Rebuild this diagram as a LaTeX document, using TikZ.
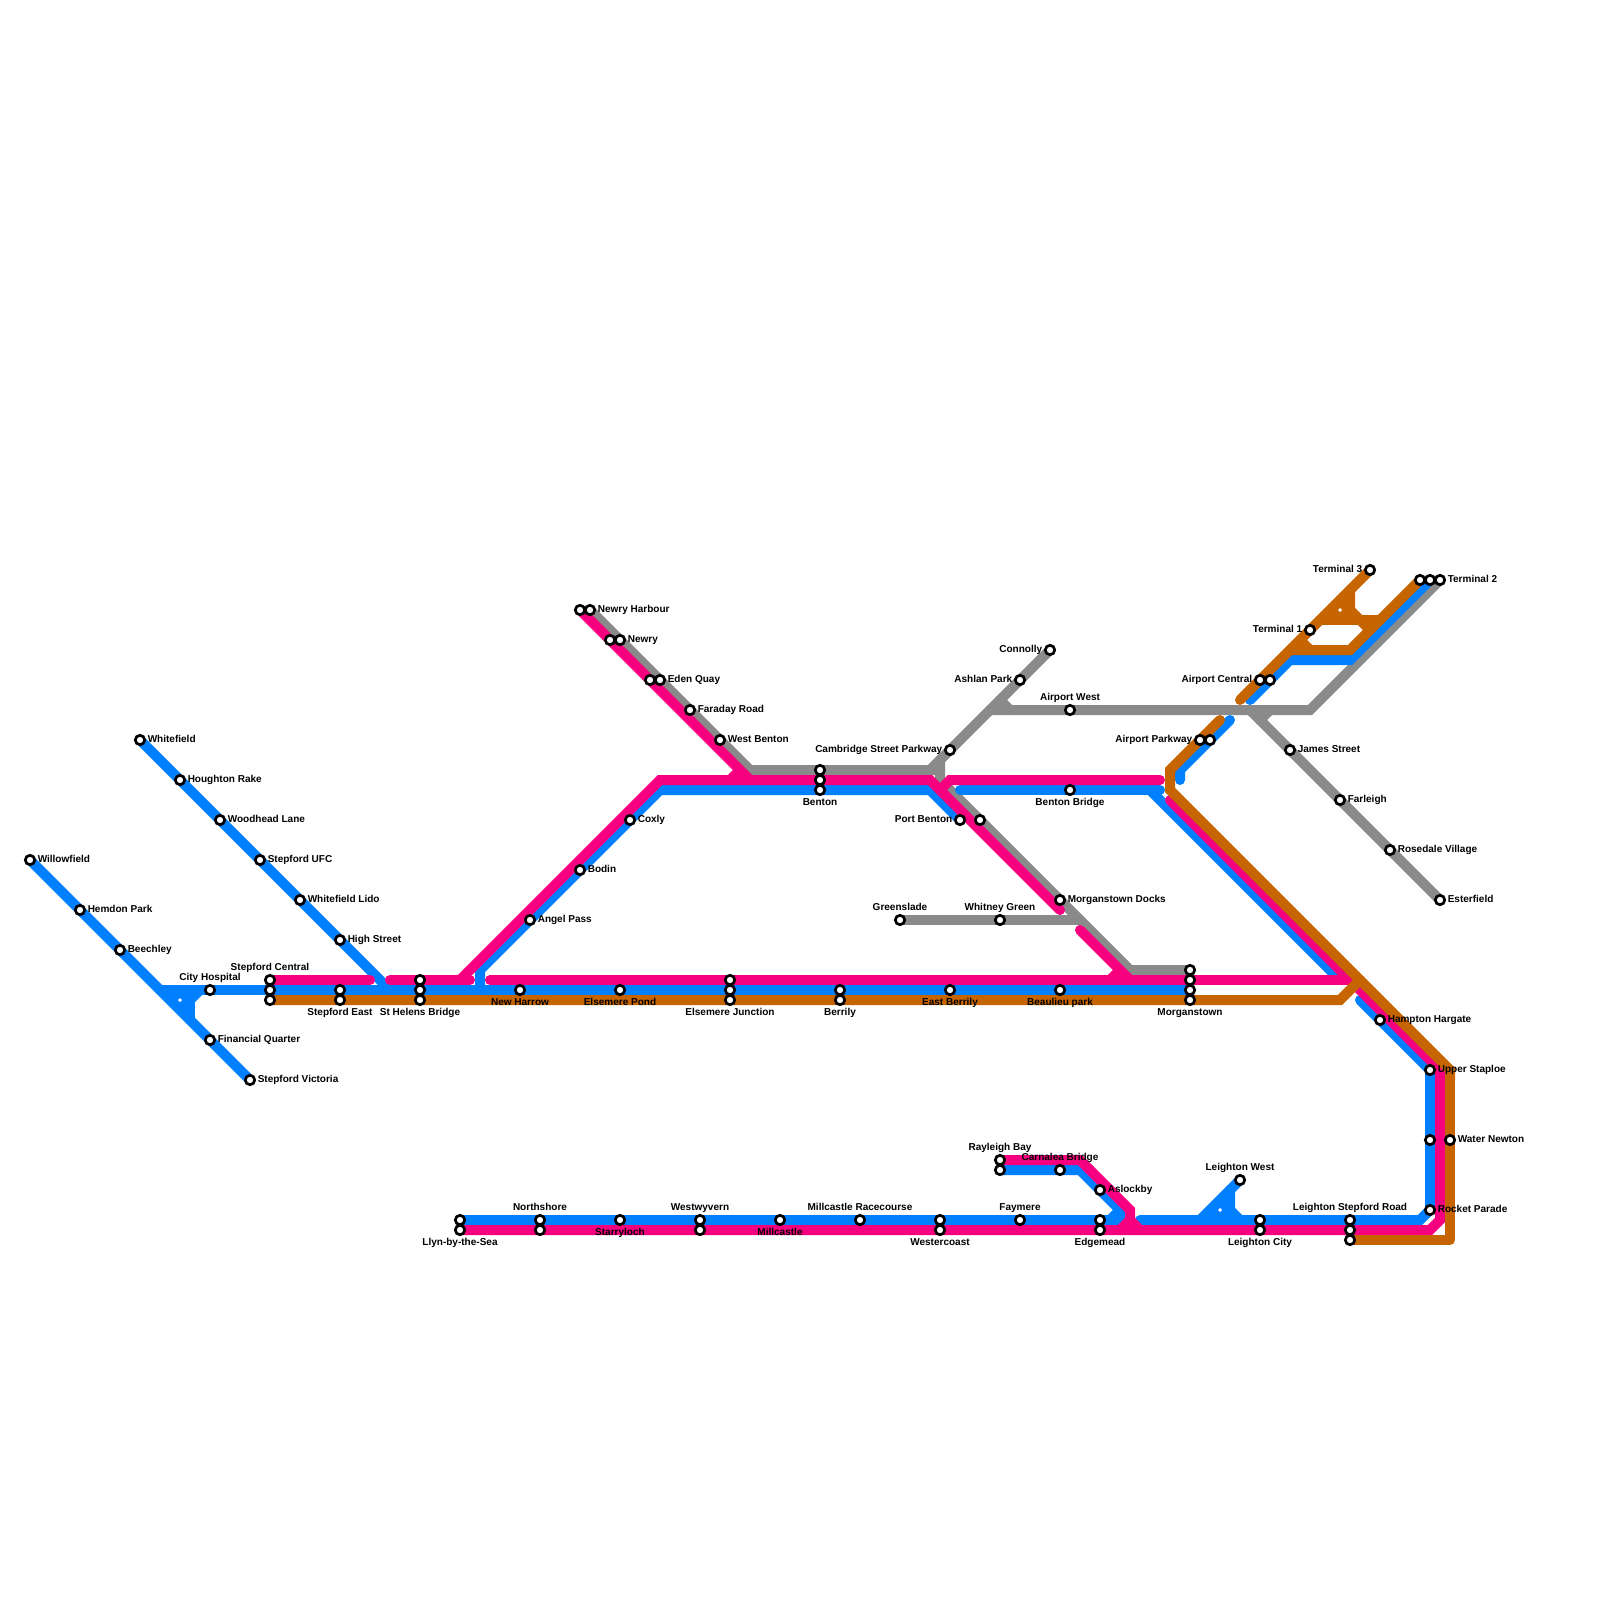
\documentclass[tikz,border=0pt]{standalone}
\usepackage{fontspec}
\setmainfont{Liberation Sans}
\usetikzlibrary{backgrounds}
\definecolor{bluecol}{RGB}{0,128,255}
\definecolor{pinkcol}{RGB}{247,0,128}
\definecolor{orangecol}{RGB}{198,100,0}
\definecolor{greycol}{RGB}{138,138,138}
\begin{document}
\begin{tikzpicture}[x=0.01cm,y=-0.01cm,label distance=0.01cm,
  tx/.style={font=\fontsize{2.85}{3.4}\selectfont\bfseries,inner sep=0pt,text height=0.075cm,text depth=0.02cm},
  sr/.style={label={[tx]right:#1}},
  sl/.style={label={[tx]left:#1}},
  su/.style={label={[tx,yshift=-0.006cm]above:#1}},
  sd/.style={label={[tx]below:#1}},
  ln/.style={line width=0.1cm,line cap=round,line join=miter}]
\tikzstyle{stn}=[circle,draw=black,fill=white,line width=0.027cm,minimum size=0.094cm,inner sep=0pt]
\useasboundingbox (0,0) rectangle (1600,1600);
% far left branches
\node[stn,sr=Willowfield] (willowfield) at (30,860) {};
\node[stn,sr=Hemdon Park] (hemdon) at (80,910) {};
\node[stn,sr=Beechley] (beechley) at (120,950) {};
\node[stn,su=City Hospital] (cityhosp) at (210,990) {};
\node[stn,sr=Financial Quarter] (financial) at (210,1040) {};
\node[stn,sr=Stepford Victoria] (victoria) at (250,1080) {};
\node[stn,sr=Whitefield] (whitefield) at (140,740) {};
\node[stn,sr=Houghton Rake] (houghton) at (180,780) {};
\node[stn,sr=Woodhead Lane] (woodhead) at (220,820) {};
\node[stn,sr=Stepford UFC] (ufc) at (260,860) {};
\node[stn,sr=Whitefield Lido] (lido) at (300,900) {};
\node[stn,sr=High Street] (highst) at (340,940) {};
% middle row
\node[stn,su=Stepford Central] (central1) at (270,980) {};
\node[stn] (central2) at (270,990) {};
\node[stn] (central3) at (270,1000) {};
\node[stn] (east1) at (340,990) {};
\node[stn,sd=Stepford East] (east2) at (340,1000) {};
\node[stn] (helens1) at (420,980) {};
\node[stn] (helens2) at (420,990) {};
\node[stn,sd=St Helens Bridge] (helens3) at (420,1000) {};
\node[stn,sd=New Harrow] (harrow) at (520,990) {};
\node[stn,sd=Elsemere Pond] (pond) at (620,990) {};
\node[stn] (junction1) at (730,980) {};
\node[stn] (junction2) at (730,990) {};
\node[stn,sd=Elsemere Junction] (junction3) at (730,1000) {};
\node[stn] (berrily1) at (840,990) {};
\node[stn,sd=Berrily] (berrily2) at (840,1000) {};
\node[stn,sd=East Berrily] (eastberrily) at (950,990) {};
\node[stn,sd=Beaulieu park] (beaulieu) at (1060,990) {};
\node[stn] (morgan1) at (1190,970) {};
\node[stn] (morgan2) at (1190,980) {};
\node[stn] (morgan3) at (1190,990) {};
\node[stn,sd=Morganstown] (morgan4) at (1190,1000) {};
% upper middle
\node[stn,sr=Angel Pass] (angel) at (530,920) {};
\node[stn,sr=Bodin] (bodin) at (580,870) {};
\node[stn,sr=Coxly] (coxly) at (630,820) {};
\node[stn] (harbour1) at (580,610) {};
\node[stn,sr=Newry Harbour] (harbour2) at (590,610) {};
\node[stn] (newry1) at (610,640) {};
\node[stn,sr=Newry] (newry2) at (620,640) {};
\node[stn] (eden1) at (650,680) {};
\node[stn,sr=Eden Quay] (eden2) at (660,680) {};
\node[stn,sr=Faraday Road] (faraday) at (690,710) {};
\node[stn,sr=West Benton] (westbenton) at (720,740) {};
\node[stn] (benton1) at (820,770) {};
\node[stn] (benton2) at (820,780) {};
\node[stn,sd=Benton] (benton3) at (820,790) {};
\node[stn,sl=Cambridge Street Parkway] (cambridge) at (950,750) {};
\node[stn,sl=Port Benton] (portbenton) at (960,820) {};
\node[stn] (portbenton2) at (980,820) {};
\node[stn,sl=Connolly] (connolly) at (1050,650) {};
\node[stn,sl=Ashlan Park] (ashlan) at (1020,680) {};
\node[stn,su=Airport West] (airportwest) at (1070,710) {};
\node[stn,sd=Benton Bridge] (bentonbridge) at (1070,790) {};
\node[stn,sr=Morganstown Docks] (docks) at (1060,900) {};
\node[stn,su=Greenslade] (greenslade) at (900,920) {};
\node[stn,su=Whitney Green] (whitney) at (1000,920) {};
% airport end
\node[stn,sl=Airport Parkway] (parkway1) at (1200,740) {};
\node[stn] (parkway2) at (1210,740) {};
\node[stn,sl=Airport Central] (apcentral1) at (1260,680) {};
\node[stn] (apcentral2) at (1270,680) {};
\node[stn,sl=Terminal 1] (term1) at (1310,630) {};
\node[stn,sl=Terminal 3] (term3) at (1370,570) {};
\node[stn] (term2a) at (1420,580) {};
\node[stn] (term2b) at (1430,580) {};
\node[stn,sr=Terminal 2] (term2c) at (1440,580) {};
\node[stn,sr=James Street] (james) at (1290,750) {};
\node[stn,sr=Farleigh] (farleigh) at (1340,800) {};
\node[stn,sr=Rosedale Village] (rosedale) at (1390,850) {};
\node[stn,sr=Esterfield] (esterfield) at (1440,900) {};
% right side
\node[stn,sr=Hampton Hargate] (hampton) at (1380,1020) {};
\node[stn,sr=Upper Staploe] (staploe) at (1430,1070) {};
\node[stn] (newton1) at (1430,1140) {};
\node[stn,sr=Water Newton] (newton2) at (1450,1140) {};
\node[stn,sr=Rocket Parade] (rocket) at (1430,1210) {};
% bottom row
\node[stn,su=Leighton Stepford Road] (lsr1) at (1350,1220) {};
\node[stn] (lsr2) at (1350,1230) {};
\node[stn] (lsr3) at (1350,1240) {};
\node[stn] (lcity1) at (1260,1220) {};
\node[stn,sd=Leighton City] (lcity2) at (1260,1230) {};
\node[stn,su=Leighton West] (lwest) at (1240,1180) {};
\node[stn,su=Rayleigh Bay] (rayleigh1) at (1000,1160) {};
\node[stn] (rayleigh2) at (1000,1170) {};
\node[stn,su=Carnalea Bridge] (carnalea) at (1060,1170) {};
\node[stn,sr=Aslockby] (aslockby) at (1100,1190) {};
\node[stn] (edge1) at (1100,1220) {};
\node[stn,sd=Edgemead] (edge2) at (1100,1230) {};
\node[stn,su=Faymere] (faymere) at (1020,1220) {};
\node[stn] (wcoast1) at (940,1220) {};
\node[stn,sd=Westercoast] (wcoast2) at (940,1230) {};
\node[stn,su=Millcastle Racecourse] (racecourse) at (860,1220) {};
\node[stn,sd=Millcastle] (millcastle) at (780,1220) {};
\node[stn,su=Westwyvern] (wyvern1) at (700,1220) {};
\node[stn] (wyvern2) at (700,1230) {};
\node[stn,sd=Starryloch] (starry) at (620,1220) {};
\node[stn,su=Northshore] (north1) at (540,1220) {};
\node[stn] (north2) at (540,1230) {};
\node[stn] (llyn1) at (460,1220) {};
\node[stn,sd=Llyn-by-the-Sea] (llyn2) at (460,1230) {};
% bends and line ends
\coordinate (g1) at (750,770); \coordinate (g2) at (940,770); \coordinate (g3) at (940,760);
\coordinate (g4) at (940,780); \coordinate (g5) at (1130,970); \coordinate (g6) at (1000,700);
\coordinate (g7) at (1010,710); \coordinate (g8) at (1310,710); \coordinate (g9) at (1250,710);
\coordinate (g10) at (1260,720); \coordinate (g11) at (1270,710); \coordinate (g12) at (1080,920);
\coordinate (g13) at (990,710); \coordinate (g14) at (930,770);
\coordinate (b1) at (160,990); \coordinate (b2) at (190,990); \coordinate (b3) at (190,1020);
\coordinate (b4) at (190,1000); \coordinate (b5) at (200,990); \coordinate (b6) at (390,990);
\coordinate (b7) at (480,990); \coordinate (b8) at (480,970); \coordinate (b9) at (660,790);
\coordinate (b10) at (930,790); \coordinate (b11) at (960,790); \coordinate (b12) at (1160,790);
\coordinate (b13) at (1150,790); \coordinate (b14) at (1340,980); \coordinate (b15) at (1180,780);
\coordinate (b16) at (1180,770); \coordinate (b17) at (1230,720); \coordinate (b18) at (1250,700);
\coordinate (b19) at (1290,660); \coordinate (b20) at (1350,660); \coordinate (b21) at (1080,1170);
\coordinate (b22) at (1130,1220); \coordinate (b23) at (1110,1220); \coordinate (b24) at (1120,1210);
\coordinate (b25) at (1140,1220); \coordinate (b26) at (1420,1220); \coordinate (b27) at (1360,1000);
\coordinate (b28) at (1200,1220); \coordinate (b29) at (1230,1190); \coordinate (b30) at (1230,1210);
\coordinate (b31) at (1240,1220);
\coordinate (p1) at (370,980); \coordinate (p2) at (390,980); \coordinate (p3) at (470,980);
\coordinate (p4) at (460,980); \coordinate (p5) at (660,780); \coordinate (p6) at (930,780);
\coordinate (p7) at (1060,910); \coordinate (p8) at (750,780); \coordinate (p9) at (730,780);
\coordinate (p10) at (740,770); \coordinate (p11) at (940,790); \coordinate (p12) at (950,780);
\coordinate (p13) at (1160,780); \coordinate (p14) at (490,980); \coordinate (p15) at (1350,980);
\coordinate (p16) at (1080,930); \coordinate (p17) at (1130,980); \coordinate (p18) at (1110,980);
\coordinate (p19) at (1120,970); \coordinate (p20) at (1170,800); \coordinate (p21) at (1440,1070);
\coordinate (p22) at (1440,1220); \coordinate (p23) at (1430,1230); \coordinate (p24) at (1080,1160);
\coordinate (p25) at (1130,1210); \coordinate (p26) at (1130,1220); \coordinate (p27) at (1140,1230);
\coordinate (p28) at (1120,1230);
\coordinate (o1) at (1340,1000); \coordinate (o2) at (1360,980); \coordinate (o3) at (1220,720);
\coordinate (o4) at (1170,770); \coordinate (o5) at (1170,790); \coordinate (o6) at (1450,1070);
\coordinate (o7) at (1450,1240); \coordinate (o8) at (1240,700); \coordinate (o9) at (1350,650);
\coordinate (o10) at (1310,650); \coordinate (o11) at (1300,640); \coordinate (o12) at (1320,620);
\coordinate (o13) at (1380,620); \coordinate (o14) at (1350,590); \coordinate (o15) at (1350,610);
\coordinate (o16) at (1370,630); \coordinate (o17) at (1290,650);
\begin{pgfonlayer}{background}
% grey
\draw[ln,greycol] (harbour2.center) -- (g1) -- (g2);
\draw[ln,greycol] (connolly.center) -- (g14);
\draw[ln,greycol] (g3) -- (g4) -- (g5) -- (morgan1.center);
\draw[ln,greycol] (g13) -- (g8) -- (term2c.center);
\draw[ln,greycol] (g6) -- (g7);
\draw[ln,greycol] (g9) -- (esterfield.center);
\draw[ln,greycol] (g10) -- (g11);
\draw[ln,greycol] (greenslade.center) -- (g12);
% blue
\draw[ln,bluecol] (willowfield.center) -- (victoria.center);
\draw[ln,bluecol] (b1) -- (morgan3.center);
\draw[ln,bluecol] (b2) -- (b3);
\draw[ln,bluecol] (b4) -- (b5);
\fill[bluecol] (b1) -- (b2) -- (b3) -- cycle;
\fill[white] (180,998) -- (182,1000) -- (180,1002) -- (178,1000) -- cycle;
\draw[ln,bluecol] (whitefield.center) -- (b6);
\draw[ln,bluecol] (b7) -- (b8) -- (b9) -- (b10) -- (portbenton.center);
\draw[ln,bluecol] (b11) -- (b12);
\draw[ln,bluecol] (b13) -- (b14);
\draw[ln,bluecol] (b15) -- (b16) -- (b17);
\draw[ln,bluecol] (b18) -- (b19) -- (b20) -- (term2b.center);
\draw[ln,bluecol] (rayleigh2.center) -- (b21) -- (b22);
\draw[ln,bluecol] (llyn1.center) -- (b22);
\draw[ln,bluecol] (b23) -- (b24);
\draw[ln,bluecol] (b25) -- (b26) -- (rocket.center) -- (staploe.center) -- (b27);
\draw[ln,bluecol] (lwest.center) -- (b28);
\draw[ln,bluecol] (b29) -- (b30) -- (b31);
\fill[bluecol] (b29) -- (1230,1220) -- (b28) -- cycle;
\fill[white] (1220,1208) -- (1222,1210) -- (1220,1212) -- (1218,1210) -- cycle;
% pink
\draw[ln,pinkcol] (central1.center) -- (p1);
\draw[ln,pinkcol] (p2) -- (p3);
\draw[ln,pinkcol] (p4) -- (p5) -- (p6) -- (p7);
\draw[ln,pinkcol] (harbour1.center) -- (p8);
\draw[ln,pinkcol] (p9) -- (p10);
\draw[ln,pinkcol] (p11) -- (p12) -- (p13);
\draw[ln,pinkcol] (p14) -- (p15);
\draw[ln,pinkcol] (p16) -- (p17);
\draw[ln,pinkcol] (p18) -- (p19);
\draw[ln,pinkcol] (p20) -- (p21) -- (p22) -- (p23) -- (llyn2.center);
\draw[ln,pinkcol] (rayleigh1.center) -- (p24) -- (p25) -- (p26) -- (p27);
\draw[ln,pinkcol] (p28) -- (p26);
% orange
\draw[ln,orangecol] (central3.center) -- (o1) -- (o2);
\draw[ln,orangecol] (o3) -- (o4) -- (o5) -- (o6) -- (1450,1080);
\draw[ln,orangecol,line join=round] (o6) -- (o7) -- (lsr3.center);
\draw[ln,orangecol] (o8) -- (term3.center);
\draw[ln,orangecol] (o17) -- (o9) -- (term2a.center);
\draw[ln,orangecol] (o11) -- (o10);
\draw[ln,orangecol] (o12) -- (o13);
\draw[ln,orangecol] (o14) -- (o15) -- (o16);
\fill[orangecol] (o14) -- (1350,620) -- (o12) -- cycle;
\fill[white] (1340,608) -- (1342,610) -- (1340,612) -- (1338,610) -- cycle;
\end{pgfonlayer}
\end{tikzpicture}
\end{document}
